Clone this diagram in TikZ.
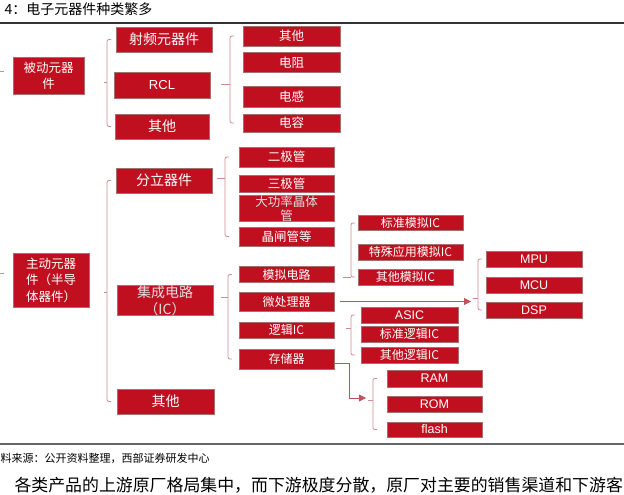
\documentclass[tikz,border=0pt]{standalone}
\usepackage{fontspec}
\setmainfont{Noto Sans CJK SC}
\newfontfamily\latinsf{Liberation Sans}
\usetikzlibrary{calc,arrows.meta}

\definecolor{boxred}{RGB}{192,16,32}
\definecolor{boxrim}{RGB}{165,110,115}
\definecolor{brcol}{RGB}{204,140,146}
\definecolor{arcol}{RGB}{196,80,92}

\tikzset{
  box/.style={draw=boxrim, line width=0.7pt, fill=boxred, text=white, inner sep=0pt, align=center},
  sz/.style 2 args={minimum width=#1pt, minimum height=#2pt},
  fa/.style={font=\fontsize{14}{17}\selectfont},
  fb/.style={font=\fontsize{12.5}{16}\selectfont},
  fc/.style={font=\fontsize{12}{15}\selectfont},
  fm/.style={font=\fontsize{12.5}{16.5}\selectfont},
  fl/.style={font=\latinsf\fontsize{12.5}{15}\selectfont},
  ghost/.style={text=black!12},
  brk/.style={draw=brcol, line width=0.8pt},
  arr/.style={draw=arcol, line width=0.8pt, -{Triangle[length=7pt,width=7pt]}},
}

% bracket: x, top node, bottom node, nub y, nub length
\newcommand{\brgroup}[5]{%
  \draw[brk, rounded corners=2pt] let \p1=(#2.west), \p2=(#3.west) in
    (#1+4,\y1) -- (#1,\y1) -- (#1,\y2) -- (#1+4,\y2);
  \draw[brk] (#1,#4) -- ++(-#5,0);}

\begin{document}
\begin{tikzpicture}[x=1pt,y=-1pt]
  \useasboundingbox (0,0) rectangle (624,495);

  % title and rules
  \node[anchor=west, font=\fontsize{14}{16}\selectfont] (ttl) at (1,9) {4：电子元器件种类繁多};
  \draw[black!80, line width=1.2pt] (0,23) -- (624,23);
  \draw[black!60, line width=1.5pt] (0,444) -- (624,444);

  % left column
  \node[box,sz={71}{37},fm] (pas) at (48.5,75.5) {被动元器\\件};
  \node[box,sz={76}{54},fm] (act) at (51,280) {主动元器\\件（半导\\体器件）};
  \coordinate (lt1) at (0,71);
  \coordinate (lt2) at (0,273);
  \draw[brk] (lt1) -- ++(4,0);
  \draw[brk] (lt2) -- ++(4,0);

  % second column
  \node[box,sz={96}{25},fa] (rf) at (164,39.5) {射频元器件};
  \node[box,sz={96}{26},fl,font=\latinsf\fontsize{13}{15}\selectfont] (rcl) at (162,85) {RCL};
  \node[box,sz={94}{25},fa] (ot1) at (162,126.5) {其他};
  \node[box,sz={96}{25},fa] (dis) at (164,180.5) {分立器件};
  \node[box,sz={96}{25},fa,ghost] (ic) at (165,300.5) {集成电路\\（IC）};
  \node[box,sz={97}{25},fa] (ot3) at (165.5,401.5) {其他};

  % third column
  \node[box,sz={97}{20},fb] (ot2) at (291.5,36) {其他};
  \node[box,sz={97}{20},fb] (res) at (291.5,62.5) {电阻};
  \node[box,sz={97}{21},fb] (ind) at (291.5,96.5) {电感};
  \node[box,sz={97}{18},fb] (cap) at (291.5,123) {电容};
  \node[box,sz={95}{20},fb] (d2) at (286.5,157) {二极管};
  \node[box,sz={95}{17},fb] (d3) at (286.5,183.5) {三极管};
  \node[box,sz={95}{17},ghost,font=\fontsize{12.5}{14}\selectfont] (pw) at (286.5,208.5) {大功率晶体\\管};
  \node[box,sz={95}{19},fb] (thy) at (286.5,236.5) {晶闸管等};
  \node[box,sz={95}{16},fc] (ana) at (286.5,274.5) {模拟电路};
  \node[box,sz={95}{19},fc] (mpr) at (286.5,301.5) {微处理器};
  \node[box,sz={95}{16},fc] (lic) at (286.5,330) {逻辑IC};
  \node[box,sz={95}{20},fc] (mem) at (286.5,359) {存储器};

  % fourth column
  \node[box,sz={105}{15},fc] (sa) at (410.5,223) {标准模拟IC};
  \node[box,sz={105}{16},fc] (spa) at (410.5,252) {特殊应用模拟IC};
  \node[box,sz={95}{16},fc] (oa) at (405.5,277) {其他模拟IC};
  \node[box,sz={97}{16},fl] (asic) at (409.5,315) {ASIC};
  \node[box,sz={97}{16},fc] (sl) at (409.5,334) {标准逻辑IC};
  \node[box,sz={97}{16},fc] (ol) at (409.5,355) {其他逻辑IC};
  \node[box,sz={95}{17},fl] (ram) at (434.5,378.5) {RAM};
  \node[box,sz={95}{16},fl] (rom) at (434.5,404) {ROM};
  \node[box,sz={95}{15},fl] (fls) at (434.5,429.5) {flash};
  \node[box,sz={96}{16},fl] (mpu) at (534,259) {MPU};
  \node[box,sz={96}{16},fl] (mcu) at (534,285) {MCU};
  \node[box,sz={96}{16},fl] (dsp) at (534,310) {DSP};

  % brackets
  \brgroup{107}{rf}{ot1}{82}{3}
  \brgroup{230}{ot2}{cap}{84}{9}
  \brgroup{225}{d2}{thy}{178}{8}
  \brgroup{107}{dis}{ot3}{292}{3}
  \brgroup{228}{ana}{mem}{297}{7}
  \brgroup{351}{sa}{oa}{277}{8}
  \brgroup{478}{mpu}{dsp}{298}{5}
  \brgroup{351}{asic}{ol}{328}{5}
  \brgroup{373}{ram}{fls}{400}{5}

  % arrows
  \coordinate (mtip) at (471,301.5);
  \coordinate (rtip) at (366,398);
  \draw[arr] ([xshift=6pt]mpr.east) -- (mtip);
  \draw[arr] ([yshift=-4pt]mem.east) -- ++(15,0) |- (rtip);

  % source and text
  \node[anchor=west, font=\fontsize{11}{13}\selectfont] (src) at (-3,458) {料来源：公开资料整理，西部证券研发中心};
  \node[anchor=west, font=\fontsize{16.9}{19}\selectfont] (txt) at (11,485) {各类产品的上游原厂格局集中，而下游极度分散，原厂对主要的销售渠道和下游客};
\end{tikzpicture}
\end{document}
